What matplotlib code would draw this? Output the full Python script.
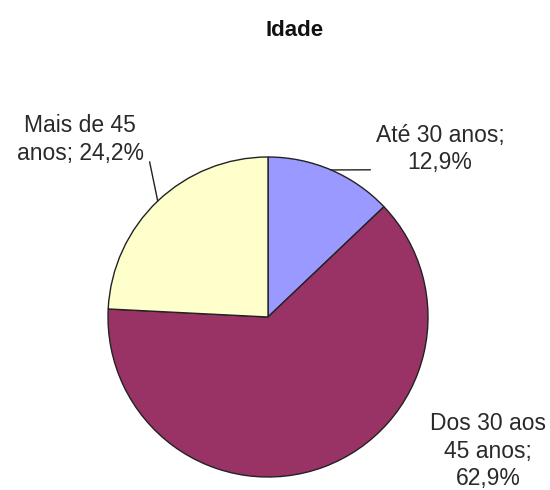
import numpy as np
import matplotlib
matplotlib.use('Agg')
import matplotlib.pyplot as plt

plt.rcParams['font.family'] = ['Liberation Sans', 'DejaVu Sans']

title = 'Idade'
labels = ['Até 30 anos;\n12,9%', 'Dos 30 aos\n45 anos;\n62,9%', 'Mais de 45\nanos; 24,2%']
values = [12.9, 62.9, 24.2]
colors = ['#9999FF', '#993366', '#FFFFCC']

# label placement (axes data units, pie radius = 1)
label_pos = [(1.075, 1.05), (1.375, -0.84), (-1.175, 1.11)]
leader_end = [(0.64, 0.92), None, (-0.74, 0.97)]

fig = plt.figure(figsize=(5.5, 4.9), dpi=100)
ax = fig.add_axes([108 / 550, 13 / 490, 320 / 550, 320 / 490])
wedges, _ = ax.pie(values, colors=colors, startangle=90, counterclock=False,
                   wedgeprops=dict(edgecolor='#222222', linewidth=1.0))
ax.set_xlim(-1, 1)
ax.set_ylim(-1, 1)
ax.set_aspect('equal')
ax.axis('off')

for w, lab, pos, end in zip(wedges, labels, label_pos, leader_end):
    mid = np.deg2rad((w.theta1 + w.theta2) / 2)
    if end is not None:
        ax.annotate('', xy=(np.cos(mid), np.sin(mid)), xytext=end,
                    arrowprops=dict(arrowstyle='-', color='#222222', lw=1.0,
                                    shrinkA=0, shrinkB=0),
                    annotation_clip=False)
    ax.text(pos[0], pos[1], lab, ha='center', va='center', fontsize=16.5,
            color='#2a2a2a', linespacing=1.25, clip_on=False)

fig.text(295 / 550, 1 - 30 / 490, title, ha='center', va='center',
         fontsize=16, fontweight='bold', color='#111111')

fig.savefig('out.png', dpi=100)
